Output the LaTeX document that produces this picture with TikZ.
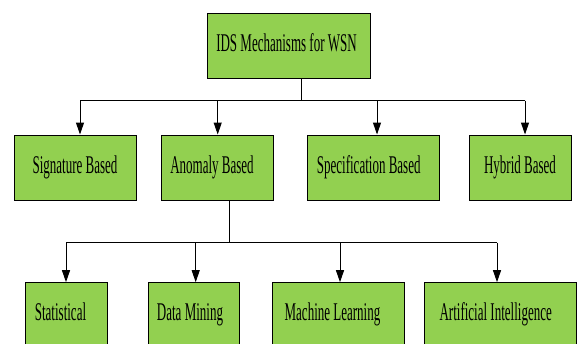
\documentclass[tikz,border=0pt]{standalone}
\usepackage{fontspec}
\setmainfont{Liberation Serif}[FakeStretch=0.51]
\usetikzlibrary{arrows.meta,calc}
\definecolor{boxgreen}{HTML}{92D050}
\tikzset{
  box/.style={draw=black, line width=1pt, fill=boxgreen, inner sep=0pt,
    minimum height=65pt, text height=17pt, text depth=6pt,
    font=\fontsize{25.5pt}{25.5pt}\selectfont},
  % moves the label left by half the given (negative) amount
  tshift/.style={execute at begin node={\hspace*{#1}}},
  link/.style={draw=black, line width=1pt},
  arr/.style={link, -{Triangle[length=12pt,width=8pt]}}
}
\begin{document}
\begin{tikzpicture}[x=1pt, y=-1pt]
  \useasboundingbox (0,0) rectangle (577,343);
  \clip (0,0) rectangle (577,343);

  % root
  \node[box, tshift=-4pt, minimum width=163pt] (root) at (288.5,45.5) {IDS Mechanisms for WSN};

  % second level
  \node[box, minimum width=122pt] (sig)  at (75,167.5)    {Signature Based};
  \node[box, tshift=-10pt, minimum width=112pt] (anom) at (217,167.5)   {Anomaly Based};
  \node[box, tshift=-10pt, minimum width=132pt] (spec) at (373.7,167.5) {Specification Based};
  \node[box, minimum width=102pt] (hyb)  at (520,167.5)   {Hybrid Based};

  % third level
  \node[box, tshift=-11pt, minimum width=82pt]  (stat) at (66,315.2)    {Statistical};
  \node[box, tshift=-7pt,  minimum width=91pt]  (dm)   at (193.5,315.2) {Data Mining};
  \node[box, tshift=-11pt, minimum width=132pt] (ml)   at (338,315.2)   {Machine Learning};
  \node[box, tshift=-10pt, minimum width=152pt] (ai)   at (500.7,315.2) {Artificial Intelligence};

  % junctions
  \coordinate (j1) at (301,101);
  \coordinate (j2) at (229,242.7);

  % root -> second level
  \draw[link] (root.south -| j1) -- (j1);
  \draw[link] ($(sig.north)+(5,-34)$) -- ($(hyb.north)+(5,-34)$);
  \draw[arr] ($(sig.north)+(5,-34)$)  -- ($(sig.north)+(5,0)$);
  \draw[arr] ($(anom.north)+(0.7,-34)$) -- ($(anom.north)+(0.7,0)$);
  \draw[arr] ($(spec.north)+(3.3,-34)$) -- ($(spec.north)+(3.3,0)$);
  \draw[arr] ($(hyb.north)+(5,-34)$)  -- ($(hyb.north)+(5,0)$);

  % anomaly -> third level
  \draw[link] (anom.south -| j2) -- (j2);
  \draw[link] (j2 -| stat.north) -- ($(j2 -| ai.north)+(-3.7,0)$);
  \draw[arr] (stat.north |- j2) -- (stat.north);
  \draw[arr] ($(dm.north |- j2)+(2.2,0)$) -- ($(dm.north)+(2.2,0)$);
  \draw[arr] ($(ml.north |- j2)+(2,0)$) -- ($(ml.north)+(2,0)$);
  \draw[arr] ($(ai.north |- j2)+(-3.7,0)$) -- ($(ai.north)+(-3.7,0)$);
\end{tikzpicture}
\end{document}
